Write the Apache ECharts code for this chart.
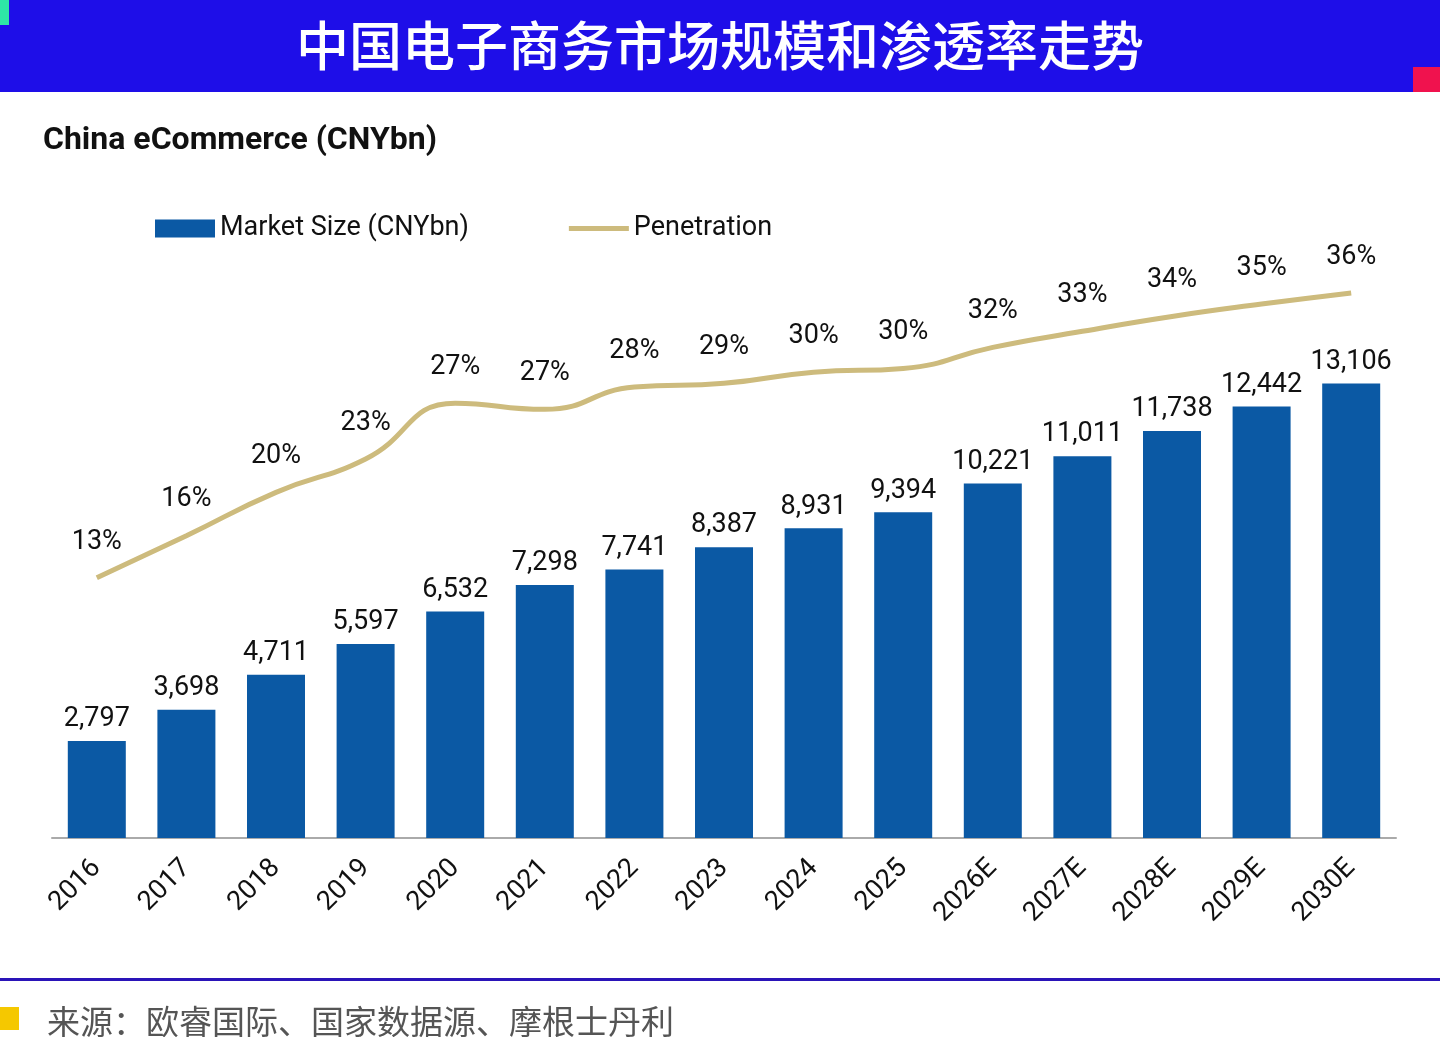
<!DOCTYPE html>
<html>
<head>
<meta charset="utf-8">
<script src="https://cdn.jsdelivr.net/npm/echarts@6/dist/echarts.min.js"></script>
<style>
  html, body { margin: 0; padding: 0; background: #fff; }
  #chart { width: 1440px; height: 1037px; }
</style>
</head>
<body>
<div id="chart"></div>
<script>
var years = ['2016', '2017', '2018', '2019', '2020', '2021', '2022', '2023',
  '2024', '2025', '2026E', '2027E', '2028E', '2029E', '2030E'];
var marketSize = [2797, 3698, 4711, 5597, 6532, 7298, 7741, 8387, 8931, 9394,
  10221, 11011, 11738, 12442, 13106];
var penetration = [13, 16.4, 19.9, 22.6, 27.1, 26.6, 28.4, 28.7, 29.6, 29.9,
  31.6, 32.9, 34.1, 35.1, 36];

var FONT = '"Liberation Sans Narrow", Roboto, sans-serif';
var CJK = '"Noto Sans CJK SC", sans-serif';
var GOLD = '#CDBB7D';

var myChart = echarts.init(document.getElementById('chart'));

myChart.setOption({
  backgroundColor: '#ffffff',
  animation: false,
  title: {
    text: 'China eCommerce (CNYbn)',
    left: 38,
    top: 120,
    textStyle: { fontFamily: FONT, fontWeight: 'bold', fontSize: 32, color: '#111' }
  },
  legend: {
    top: 210,
    left: 150,
    itemGap: 100,
    itemWidth: 60,
    itemHeight: 18,
    textStyle: { fontFamily: FONT, fontSize: 27, color: '#111' },
    data: [
      { name: 'Market Size (CNYbn)', icon: 'rect' },
      { name: 'Penetration', icon: 'path://M0,0 L60,0 L60,5 L0,5 Z',
        itemStyle: { color: GOLD, opacity: 1 } }
    ]
  },
  grid: { left: 52, right: 44, top: 200, bottom: 199 },
  xAxis: {
    type: 'category',
    data: years,
    axisLine: { lineStyle: { color: '#aaa', width: 2 } },
    axisTick: { show: false },
    axisLabel: {
      rotate: 45,
      fontFamily: FONT,
      fontSize: 27,
      color: '#111',
      margin: 26
    }
  },
  yAxis: [
    { type: 'value', min: 0, max: 18400, show: false, splitLine: { show: false } },
    { type: 'value', min: -8, max: 43.5, show: false, splitLine: { show: false } }
  ],
  series: [
    {
      name: 'Market Size (CNYbn)',
      type: 'bar',
      data: marketSize,
      barWidth: 58,
      itemStyle: { color: '#0B59A4' },
      label: {
        show: true,
        position: 'top',
        distance: 8,
        fontFamily: FONT,
        fontSize: 27,
        color: '#111',
        formatter: function (p) { return p.value.toLocaleString('en-US'); }
      }
    },
    {
      name: 'Penetration',
      type: 'line',
      yAxisIndex: 1,
      data: penetration,
      smooth: true,
      symbol: 'circle',
      symbolSize: 1,
      showSymbol: true,
      lineStyle: { color: GOLD, width: 5 },
      itemStyle: { color: 'rgba(0,0,0,0)' },
      label: {
        show: true,
        position: 'top',
        distance: 22,
        fontFamily: FONT,
        fontSize: 27,
        color: '#111',
        formatter: function (p) { return Math.round(p.value) + '%'; }
      }
    }
  ],
  graphic: [
    { type: 'rect', shape: { x: 0, y: 0, width: 1440, height: 92 }, style: { fill: '#1E0EE8' } },
    { type: 'rect', shape: { x: 0, y: 0, width: 9, height: 25 }, style: { fill: '#2EE6A6' } },
    { type: 'rect', shape: { x: 1413, y: 67, width: 27, height: 25 }, style: { fill: '#F0124E' } },
    {
      type: 'text', x: 720, y: 46,
      style: {
        text: '中国电子商务市场规模和渗透率走势', fill: '#fff',
        font: '500 53px ' + CJK, textAlign: 'center', textVerticalAlign: 'middle'
      }
    },
    { type: 'rect', shape: { x: 0, y: 978, width: 1440, height: 3 }, style: { fill: '#2A14B8' } },
    { type: 'rect', shape: { x: 0, y: 1007, width: 19, height: 23 }, style: { fill: '#F5C800' } },
    {
      type: 'text', x: 47, y: 1021,
      style: {
        text: '来源：欧睿国际、国家数据源、摩根士丹利', fill: '#555',
        font: '33px ' + CJK, textVerticalAlign: 'middle'
      }
    }
  ]
});
</script>
</body>
</html>
